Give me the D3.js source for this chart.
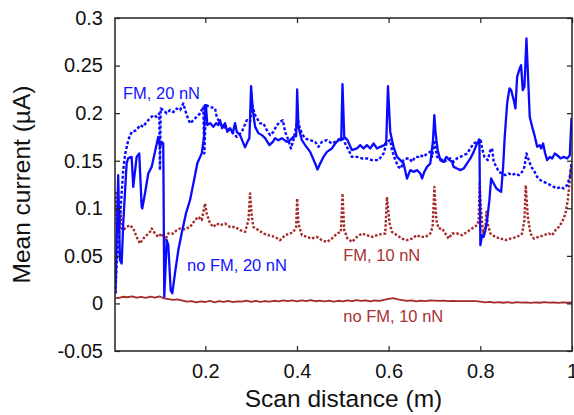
<!DOCTYPE html>
<html>
<head>
<meta charset="utf-8">
<script src="https://cdn.jsdelivr.net/npm/d3@7"></script>
<style>
  html, body { margin: 0; padding: 0; background: #fff; }
  svg { display: block; font-family: "Liberation Sans", Arial, Helvetica, sans-serif; }
</style>
</head>
<body>
<svg id="chart" width="574" height="415"></svg>
<script>
// Axis ticks
const xTickValues = [0.2, 0.4, 0.6, 0.8, 1];
const xTickLabels = ["0.2", "0.4", "0.6", "0.8", "1"];
const yTickValues = [-0.05, 0, 0.05, 0.1, 0.15, 0.2, 0.25, 0.3];
const yTickLabels = ["-0.05", "0", "0.05", "0.1", "0.15", "0.2", "0.25", "0.3"];

// Series: [scan distance (m), mean current (µA)]
const noFm20 = [
  [0.004,0.0104],[0.0100,0.1348],[0.0138,0.0454],[0.0175,0.0420],[0.0210,0.0843],[0.0284,0.1474],
  [0.0319,0.1527],[0.0393,0.1540],[0.0428,0.1225],[0.0502,0.1540],[0.0559,0.1576],[0.0612,0.1015],
  [0.0625,0.0998],[0.0684,0.1156],[0.0756,0.1366],[0.0830,0.1435],[0.0974,0.1751],[0.1011,0.1646],
  [0.1048,0.1698],[0.1083,0.1681],[0.1105,0.0068],[0.1158,0.0665],[0.1193,0.0612],[0.1245,0.0139],
  [0.1280,0.0107],[0.1339,0.0318],[0.1411,0.0559],[0.1485,0.0738],[0.1579,0.0948],[0.1667,0.1085],
  [0.1754,0.1295],[0.1826,0.1474],[0.1922,0.1577],[0.1972,0.1748],[0.1994,0.2084],[0.2016,0.2063],
  [0.2045,0.1874],[0.2104,0.1895],[0.2176,0.1856],[0.2235,0.1895],[0.2285,0.1874],[0.2322,0.1926],
  [0.2366,0.1842],[0.2431,0.1895],[0.2481,0.1803],[0.2540,0.1842],[0.2599,0.1790],[0.2650,0.1895],
  [0.2687,0.1803],[0.2759,0.1769],[0.2818,0.1698],[0.2868,0.1642],[0.2918,0.1698],[0.2962,0.1737],
  [0.2999,0.2284],[0.3036,0.2032],[0.3087,0.1856],[0.3159,0.1790],[0.3233,0.1769],[0.3305,0.1737],
  [0.3399,0.1664],[0.3473,0.1698],[0.3523,0.1737],[0.3595,0.1716],[0.3670,0.1737],[0.3779,0.1698],
  [0.3851,0.1716],[0.3923,0.1751],[0.3982,0.1758],[0.4004,0.2249],[0.4032,0.1856],[0.4107,0.1716],
  [0.4179,0.1664],[0.4288,0.1593],[0.4397,0.1471],[0.4447,0.1408],[0.4506,0.1471],[0.4578,0.1540],
  [0.4653,0.1593],[0.4762,0.1629],[0.4834,0.1681],[0.4906,0.1716],[0.4965,0.1716],[0.4993,0.2305],
  [0.5031,0.1751],[0.5103,0.1716],[0.5199,0.1611],[0.5308,0.1629],[0.5380,0.1664],[0.5452,0.1629],
  [0.5526,0.1664],[0.5599,0.1629],[0.5671,0.1681],[0.5745,0.1629],[0.5817,0.1646],[0.5904,0.1664],
  [0.5948,0.1698],[0.5985,0.2284],[0.6035,0.1803],[0.6107,0.1646],[0.6182,0.1540],[0.6254,0.1506],
  [0.6326,0.1471],[0.6400,0.1313],[0.6472,0.1401],[0.6544,0.1383],[0.6619,0.1401],[0.6691,0.1366],
  [0.6728,0.1313],[0.6778,0.1383],[0.6837,0.1435],[0.6909,0.1471],[0.6968,0.1716],[0.6997,0.1979],
  [0.7025,0.1786],[0.7069,0.1611],[0.7128,0.1506],[0.7200,0.1488],[0.7259,0.1540],[0.7331,0.1506],
  [0.7383,0.1488],[0.7418,0.1435],[0.7492,0.1418],[0.7565,0.1401],[0.7637,0.1418],[0.7711,0.1471],
  [0.7783,0.1524],[0.7855,0.1593],[0.7929,0.1681],[0.7980,0.1716],[0.8001,0.0612],[0.8038,0.0717],
  [0.8073,0.0699],[0.8111,0.0770],[0.8148,0.0875],[0.8198,0.1085],[0.8235,0.1313],[0.8292,0.1261],
  [0.8351,0.1208],[0.8401,0.1190],[0.8454,0.1172],[0.8497,0.1435],[0.8532,0.1751],[0.8585,0.2102],
  [0.8635,0.2260],[0.8672,0.2242],[0.8729,0.2137],[0.8766,0.2049],[0.8803,0.2382],[0.8860,0.2470],
  [0.8890,0.2505],[0.8925,0.2242],[0.8962,0.2277],[0.8984,0.2523],[0.9006,0.2785],[0.9035,0.2452],
  [0.9078,0.1961],[0.9131,0.1856],[0.9181,0.1769],[0.9240,0.1646],[0.9297,0.1664],[0.9327,0.1629],
  [0.9371,0.1681],[0.9406,0.1593],[0.9458,0.1506],[0.9515,0.1540],[0.9568,0.1524],[0.9624,0.1576],
  [0.9677,0.1558],[0.9749,0.1524],[0.9821,0.1540],[0.9895,0.1524],[0.9952,0.1558],[0.9989,0.1950]
];

const fm20 = [
  [0.004,0.0104],[0.0066,0.0423],[0.0100,0.0594],[0.0138,0.0875],[0.0175,0.1159],[0.0210,0.1401],
  [0.0247,0.1558],[0.0319,0.1716],[0.0393,0.1803],[0.0502,0.1821],[0.0574,0.1874],[0.0647,0.1856],
  [0.0721,0.1909],[0.0793,0.1944],[0.0865,0.1979],[0.0939,0.1961],[0.0996,0.1997],[0.1011,0.1401],
  [0.1027,0.2049],[0.1083,0.2032],[0.1158,0.1997],[0.1230,0.2032],[0.1302,0.2011],[0.1376,0.2049],
  [0.1448,0.2032],[0.1520,0.2102],[0.1595,0.1979],[0.1667,0.1892],[0.1776,0.1944],[0.1885,0.1997],
  [0.1957,0.2066],[0.1979,0.1576],[0.2016,0.2084],[0.2104,0.2066],[0.2213,0.2049],[0.2250,0.1961],
  [0.2322,0.1892],[0.2394,0.1856],[0.2540,0.1821],[0.2687,0.1751],[0.2796,0.1803],[0.2905,0.1926],
  [0.2977,0.1909],[0.3014,0.2102],[0.3087,0.1979],[0.3196,0.1892],[0.3268,0.1892],[0.3342,0.1821],
  [0.3414,0.1769],[0.3486,0.1803],[0.3561,0.1874],[0.3633,0.1909],[0.3692,0.1926],[0.3742,0.1803],
  [0.3814,0.1716],[0.3866,0.1629],[0.3923,0.1716],[0.3982,0.1856],[0.4011,0.1944],[0.4054,0.1856],
  [0.4107,0.1786],[0.4179,0.1734],[0.4288,0.1716],[0.4397,0.1698],[0.4469,0.1646],[0.4543,0.1698],
  [0.4653,0.1716],[0.4762,0.1681],[0.4834,0.1698],[0.4943,0.1734],[0.5002,0.1734],[0.5052,0.1681],
  [0.5125,0.1611],[0.5199,0.1540],[0.5308,0.1540],[0.5417,0.1524],[0.5526,0.1524],[0.5636,0.1506],
  [0.5780,0.1506],[0.5889,0.1576],[0.5963,0.1698],[0.6035,0.1716],[0.6073,0.1611],[0.6145,0.1506],
  [0.6217,0.1435],[0.6269,0.1418],[0.6326,0.1506],[0.6400,0.1524],[0.6457,0.1524],[0.6509,0.1488],
  [0.6581,0.1540],[0.6654,0.1540],[0.6691,0.1558],[0.6763,0.1540],[0.6837,0.1576],[0.6909,0.1593],
  [0.6946,0.1540],[0.6997,0.1716],[0.7056,0.1540],[0.7128,0.1524],[0.7200,0.1488],[0.7274,0.1506],
  [0.7346,0.1524],[0.7418,0.1488],[0.7492,0.1524],[0.7565,0.1540],[0.7637,0.1558],[0.7711,0.1576],
  [0.7783,0.1629],[0.7855,0.1681],[0.7929,0.1698],[0.8001,0.1734],[0.8038,0.1629],[0.8089,0.1540],
  [0.8161,0.1506],[0.8220,0.1611],[0.8257,0.1629],[0.8292,0.1488],[0.8351,0.1435],[0.8401,0.1383],
  [0.8475,0.1366],[0.8547,0.1348],[0.8620,0.1366],[0.8694,0.1348],[0.8766,0.1366],[0.8838,0.1348],
  [0.8912,0.1383],[0.8962,0.1435],[0.9006,0.1576],[0.9056,0.1506],[0.9109,0.1435],[0.9166,0.1401],
  [0.9240,0.1330],[0.9312,0.1295],[0.9384,0.1278],[0.9458,0.1261],[0.9530,0.1243],[0.9603,0.1225],
  [0.9677,0.1208],[0.9749,0.1225],[0.9821,0.1208],[0.9895,0.1243],[0.9952,0.1330],[0.9989,0.1471]
];

const fm10 = [
  [0.004,0.1172],[0.0066,0.0843],[0.0079,0.1159],[0.0100,0.0857],[0.0138,0.1033],[0.0175,0.0791],
  [0.0210,0.0770],[0.0284,0.0804],[0.0356,0.0822],[0.0428,0.0788],[0.0502,0.0699],[0.0574,0.0630],
  [0.0647,0.0682],[0.0721,0.0717],[0.0793,0.0752],[0.0830,0.0788],[0.0902,0.0735],[0.0974,0.0699],
  [0.1048,0.0735],[0.1121,0.0665],[0.1193,0.0735],[0.1302,0.0735],[0.1376,0.0770],[0.1448,0.0788],
  [0.1557,0.0780],[0.1667,0.0804],[0.1776,0.0875],[0.1848,0.0910],[0.1922,0.0875],[0.1994,0.1050],
  [0.2031,0.0945],[0.2104,0.0840],[0.2176,0.0804],[0.2250,0.0840],[0.2322,0.0822],[0.2431,0.0840],
  [0.2540,0.0804],[0.2650,0.0804],[0.2759,0.0770],[0.2868,0.0752],[0.2940,0.0875],[0.2977,0.1156],
  [0.3014,0.0910],[0.3049,0.0804],[0.3159,0.0770],[0.3268,0.0735],[0.3377,0.0717],[0.3523,0.0699],
  [0.3633,0.0665],[0.3742,0.0717],[0.3851,0.0735],[0.3923,0.0752],[0.3982,0.0804],[0.4004,0.1103],
  [0.4032,0.0840],[0.4107,0.0717],[0.4216,0.0699],[0.4325,0.0682],[0.4434,0.0699],[0.4543,0.0665],
  [0.4653,0.0647],[0.4762,0.0682],[0.4871,0.0735],[0.4959,0.0752],[0.4993,0.1156],[0.5031,0.0770],
  [0.5103,0.0682],[0.5199,0.0647],[0.5308,0.0699],[0.5417,0.0735],[0.5526,0.0717],[0.5636,0.0699],
  [0.5745,0.0717],[0.5839,0.0728],[0.5926,0.0735],[0.5963,0.1120],[0.6020,0.0840],[0.6073,0.0752],
  [0.6182,0.0717],[0.6291,0.0682],[0.6400,0.0665],[0.6509,0.0682],[0.6619,0.0717],[0.6691,0.0699],
  [0.6800,0.0699],[0.6909,0.0735],[0.6959,0.0804],[0.6997,0.1225],[0.7040,0.0875],[0.7090,0.0788],
  [0.7165,0.0788],[0.7237,0.0735],[0.7309,0.0682],[0.7383,0.0735],[0.7492,0.0735],[0.7602,0.0717],
  [0.7711,0.0752],[0.7820,0.0788],[0.7929,0.0822],[0.7964,0.0875],[0.7986,0.1261],[0.8017,0.0980],
  [0.8060,0.0735],[0.8111,0.0804],[0.8132,0.0962],[0.8161,0.0840],[0.8220,0.0735],[0.8329,0.0699],
  [0.8438,0.0682],[0.8547,0.0665],[0.8657,0.0682],[0.8803,0.0699],[0.8912,0.0735],[0.8962,0.0875],
  [0.8991,0.1243],[0.9035,0.0910],[0.9094,0.0735],[0.9166,0.0682],[0.9275,0.0699],[0.9384,0.0717],
  [0.9493,0.0735],[0.9568,0.0717],[0.9640,0.0770],[0.9712,0.0804],[0.9786,0.0857],[0.9858,0.0945],
  [0.9908,0.1085],[0.9952,0.1295],[0.9989,0.1471]
];

const noFm10 = [
  [0.004,0.0060],[0.01,0.0055],[0.02,0.0070],[0.03,0.0065],[0.04,0.0075],[0.05,0.0060],[0.06,0.0068],
  [0.07,0.0058],[0.08,0.0072],[0.09,0.0062],[0.10,0.0075],[0.11,0.0052],[0.12,0.0045],[0.13,0.0038],
  [0.14,0.0042],[0.15,0.0030],[0.16,0.0018],[0.17,0.0025],[0.18,0.0012],[0.19,0.0022],[0.20,0.0015],
  [0.21,0.0028],[0.22,0.0012],[0.23,0.0024],[0.24,0.0016],[0.25,0.0026],[0.26,0.0014],[0.27,0.0022],
  [0.28,0.0018],[0.29,0.0029],[0.30,0.0017],[0.31,0.0027],[0.32,0.0016],[0.33,0.0024],[0.34,0.0019],
  [0.35,0.0028],[0.36,0.0021],[0.37,0.0032],[0.38,0.0024],[0.39,0.0031],[0.40,0.0022],[0.41,0.0033],
  [0.42,0.0025],[0.43,0.0034],[0.44,0.0023],[0.45,0.0030],[0.46,0.0021],[0.47,0.0029],[0.48,0.0018],
  [0.49,0.0028],[0.50,0.0022],[0.51,0.0031],[0.52,0.0024],[0.53,0.0035],[0.54,0.0026],[0.55,0.0033],
  [0.56,0.0022],[0.57,0.0031],[0.58,0.0027],[0.59,0.0038],[0.60,0.0048],[0.61,0.0055],[0.62,0.0042],
  [0.63,0.0035],[0.64,0.0026],[0.65,0.0033],[0.66,0.0021],[0.67,0.0030],[0.68,0.0024],[0.69,0.0031],
  [0.70,0.0029],[0.71,0.0026],[0.72,0.0030],[0.73,0.0025],[0.74,0.0026],[0.75,0.0025],[0.76,0.0025],
  [0.77,0.0025],[0.78,0.0024],[0.79,0.0025],[0.80,0.0018],[0.81,0.0012],[0.82,0.0016],[0.83,0.0008],
  [0.84,0.0014],[0.85,0.0007],[0.86,0.0013],[0.87,0.0006],[0.88,0.0014],[0.89,0.0008],[0.90,0.0012],
  [0.91,0.0005],[0.92,0.0011],[0.93,0.0007],[0.94,0.0014],[0.95,0.0008],[0.96,0.0012],[0.97,0.0006],
  [0.98,0.0011],[0.99,0.0007],[1.00,0.0010]
];

// Text labels placed next to the curves
const curveLabels = [
  { text: "FM, 20 nN",    x: 0.0205, y: 0.2150, color: "#1414ff" },
  { text: "no FM, 20 nN", x: 0.1600, y: 0.0340, color: "#1414ff" },
  { text: "FM, 10 nN",    x: 0.5010, y: 0.0450, color: "#a83232" },
  { text: "no FM, 10 nN", x: 0.5010, y: -0.0200, color: "#a83232" }
];

const BLUE = "#0a0aff";
const RED = "#a52a2a";

const svg = d3.select("#chart");
const margin = { left: 115, right: 2, top: 18, bottom: 64 };
const W = 574, H = 415;
const plotW = W - margin.left - margin.right;
const plotH = H - margin.top - margin.bottom;

const x = d3.scaleLinear().domain([0.003, 1.0]).range([0, plotW]);
const y = d3.scaleLinear().domain([-0.05, 0.3]).range([plotH, 0]);

const g = svg.append("g").attr("transform", `translate(${margin.left},${margin.top})`);

g.append("clipPath").attr("id", "plot-clip")
  .append("rect").attr("x", 0).attr("y", 0).attr("width", plotW).attr("height", plotH);

const line = d3.line().x(d => x(d[0])).y(d => y(d[1]));

const curves = g.append("g").attr("clip-path", "url(#plot-clip)");

curves.append("path").datum(noFm10)
  .attr("d", line).attr("fill", "none").attr("stroke", RED)
  .attr("stroke-width", 1.8).attr("stroke-linejoin", "round");

curves.append("path").datum(fm10)
  .attr("d", line).attr("fill", "none").attr("stroke", RED)
  .attr("stroke-width", 2.4).attr("stroke-dasharray", "2.5,1.8").attr("stroke-linejoin", "round");

curves.append("path").datum(fm20)
  .attr("d", line).attr("fill", "none").attr("stroke", BLUE)
  .attr("stroke-width", 2.4).attr("stroke-dasharray", "3,2").attr("stroke-linejoin", "round");

curves.append("path").datum(noFm20)
  .attr("d", line).attr("fill", "none").attr("stroke", BLUE)
  .attr("stroke-width", 2.3).attr("stroke-linejoin", "round");

// Axes: inward ticks on all four sides
const tickLen = 5;
const axisStyle = sel => {
  sel.select(".domain").remove();
  sel.selectAll(".tick line").attr("stroke", "#222").attr("stroke-width", 1.2);
  sel.selectAll(".tick text").attr("fill", "#111").attr("font-size", 20);
};

g.append("g").attr("transform", `translate(0,${plotH})`)
  .call(d3.axisBottom(x).tickValues(xTickValues).tickFormat((d, i) => xTickLabels[i])
    .tickSizeInner(-tickLen).tickSizeOuter(0).tickPadding(13))
  .call(axisStyle);

g.append("g")
  .call(d3.axisTop(x).tickValues(xTickValues).tickFormat("")
    .tickSizeInner(-tickLen).tickSizeOuter(0))
  .call(axisStyle);

g.append("g")
  .call(d3.axisLeft(y).tickValues(yTickValues).tickFormat((d, i) => yTickLabels[i])
    .tickSizeInner(-tickLen).tickSizeOuter(0).tickPadding(12))
  .call(axisStyle);

g.append("g").attr("transform", `translate(${plotW},0)`)
  .call(d3.axisRight(y).tickValues(yTickValues).tickFormat("")
    .tickSizeInner(-tickLen).tickSizeOuter(0))
  .call(axisStyle);

// Plot frame
g.append("rect").attr("x", 0).attr("y", 0).attr("width", plotW).attr("height", plotH)
  .attr("fill", "none").attr("stroke", "#222").attr("stroke-width", 1.5);

// Curve labels
g.selectAll("text.curve-label").data(curveLabels).enter().append("text")
  .attr("class", "curve-label")
  .attr("x", d => x(d.x)).attr("y", d => y(d.y))
  .attr("fill", d => d.color).attr("font-size", 16.5)
  .text(d => d.text);

// Axis titles
svg.append("text")
  .attr("x", margin.left + plotW / 2).attr("y", 407)
  .attr("text-anchor", "middle").attr("font-size", 24.5).attr("fill", "#111")
  .text("Scan distance (m)");

svg.append("text")
  .attr("transform", `translate(30,${margin.top + plotH / 2}) rotate(-90)`)
  .attr("text-anchor", "middle").attr("font-size", 24.5).attr("fill", "#111")
  .text("Mean current (µA)");
</script>
</body>
</html>
